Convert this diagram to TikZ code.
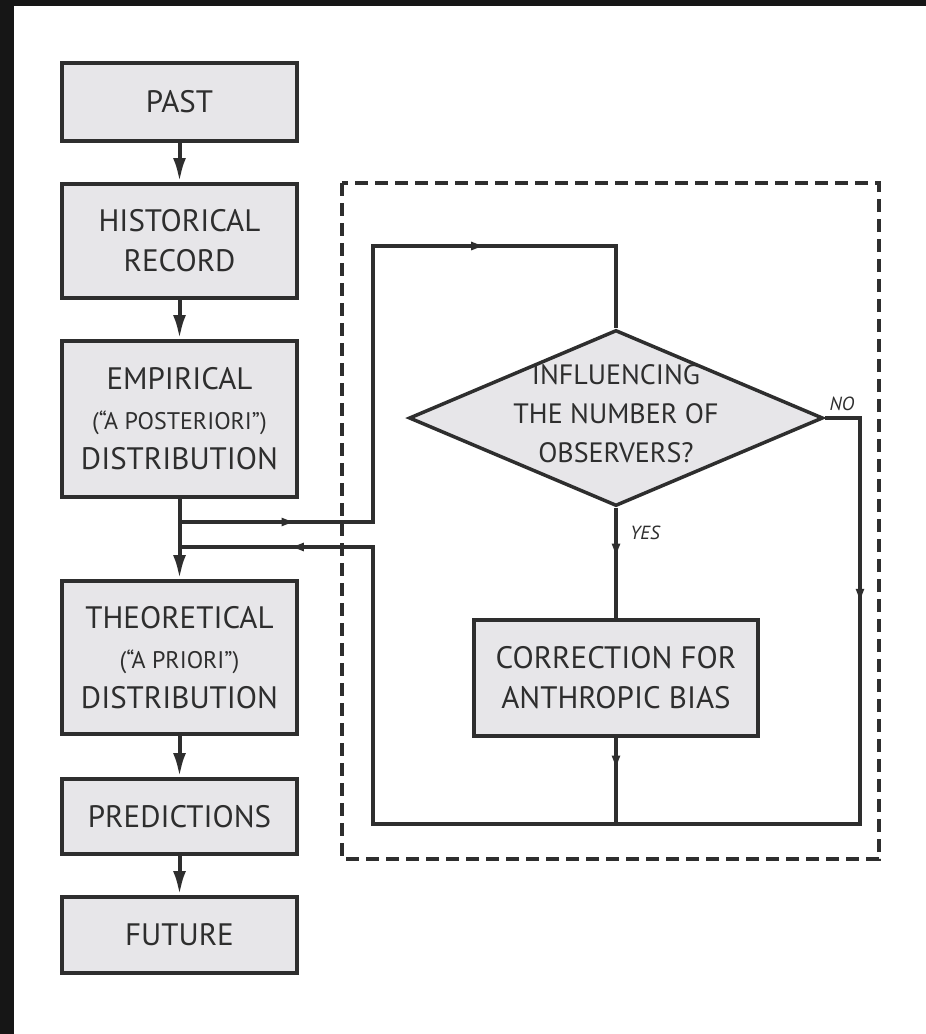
\documentclass[tikz,border=0pt]{standalone}
\usepackage{fontspec}
\setmainfont{PT Sans}
\usetikzlibrary{shapes.geometric,arrows.meta,decorations.markings}

\definecolor{boxgray}{HTML}{E7E6E9}
\definecolor{inkgray}{HTML}{2E2E2E}
\definecolor{slate}{HTML}{161616}

\newcommand{\bigtxt}{\fontsize{31}{40}\selectfont}
\newcommand{\asktxt}{\fontsize{28}{39}\selectfont}
\newcommand{\smalltxt}{\fontsize{24}{26}\selectfont}
\newcommand{\tagtxt}{\fontsize{19}{20}\selectfont\itshape}

\tikzset{
  stepbox/.style={draw=inkgray, fill=boxgray, line width=4pt, minimum width=235pt,
    inner sep=0pt, align=center, font=\bigtxt, text=inkgray},
  decision/.style={diamond, draw=inkgray, fill=boxgray, line width=3.5pt,
    minimum width=414pt, minimum height=176pt, inner sep=0pt},
  flow/.style={draw=inkgray, line width=4pt, -{Latex[length=24pt,width=13pt]}},
  wire/.style={draw=inkgray, line width=3.5pt},
  midtip/.style={color=inkgray, decoration={markings,
    mark=at position #1 with {\arrow{Latex[length=16pt,width=9pt]}}},
    postaction={decorate}},
  tag/.style={font=\tagtxt, text=inkgray}
}

\begin{document}
\begin{tikzpicture}[x=1pt,y=-1pt]

\useasboundingbox (0,0) rectangle (926,1034);
\fill[white] (0,0) rectangle (926,1034);
\fill[slate] (0,0) rectangle (14,1034);
\fill[slate] (0,0) rectangle (926,6);

% left column
\node[stepbox, minimum height=78pt] (past) at (179.5,102) {PAST};
\node[stepbox, minimum height=114pt] (hist) at (179.5,241) {HISTORICAL\\RECORD};
\node[stepbox, minimum height=156pt] (emp) at (179.5,419)
  {EMPIRICAL\\{\smalltxt (“A POSTERIORI”)}\\DISTRIBUTION};
\node[stepbox, minimum height=153pt] (theo) at (179.5,657.5)
  {THEORETICAL\\{\smalltxt (“A PRIORI”)}\\DISTRIBUTION};
\node[stepbox, minimum height=75pt] (pred) at (179.5,816.5) {PREDICTIONS};
\node[stepbox, minimum height=76pt] (fut) at (179.5,935) {FUTURE};

\draw[flow] (past) -- (hist);
\draw[flow] (hist) -- (emp);
\draw[flow] (emp) -- (theo);
\draw[flow] (theo) -- (pred);
\draw[flow] (pred) -- (fut);

% dashed frame
\draw[inkgray, line width=4pt, dash pattern=on 13pt off 7pt] (342,183) rectangle (879,859);

% loop
\node[decision] (ask) at (616,418) {};
\node[font=\asktxt, align=center, text=inkgray] (asktext) at (616,414)
  {INFLUENCING\\THE NUMBER OF\\OBSERVERS?};
\node[stepbox, minimum width=284pt, minimum height=116pt] (corr) at (616,678)
  {CORRECTION FOR\\ANTHROPIC BIAS};

\coordinate (outJ) at (179.5,522);
\coordinate (outC) at (373,522);
\coordinate (topL) at (373,246);
\coordinate (topR) at (616,246);
\coordinate (noC) at (860,418);
\coordinate (botR) at (860,824);
\coordinate (botM) at (616,824);
\coordinate (botL) at (373,824);
\coordinate (backC) at (373,547);
\coordinate (backJ) at (179.5,547);

\draw[wire] (outJ) -- (outC) -- (topL) -- (topR) -- (ask.north);
\draw[wire] (ask.east) -- (noC) -- (botR) -- (botL) -- (backC) -- (backJ);
\draw[wire] (ask.south) -- (corr.north);
\draw[wire] (corr.south) -- (botM);

\draw[wire, midtip=0.61] (outJ) -- (outC);
\draw[wire, midtip=0.47] (topL) -- (topR);
\draw[wire, midtip=0.46] (noC) -- (botR);
\draw[wire, midtip=0.44] (backC) -- (backJ);
\draw[wire, midtip=0.47] (ask.south) -- (corr.north);
\draw[wire, midtip=0.39] (corr.south) -- (botM);

\node[tag] (no) at (842,404) {NO};
\node[tag] (yes) at (645,533) {YES};

\end{tikzpicture}
\end{document}
